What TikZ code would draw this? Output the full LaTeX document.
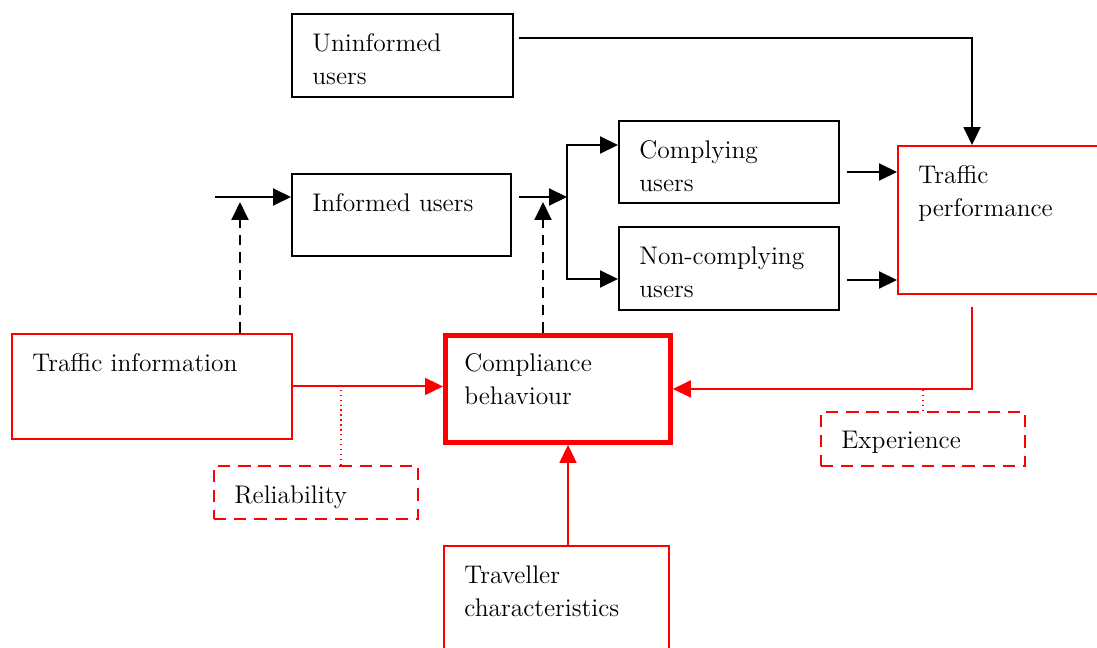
\documentclass[tikz,border=0pt]{standalone}
\usepackage{tikz}
\usetikzlibrary{arrows.meta, positioning, calc}

\begin{document}
\begin{tikzpicture}[
        x=0.02cm, y=-0.02cm,
        txt/.style={anchor=north west, inner sep=0pt, align=left, xshift=0.42cm, yshift=-0.40cm, font=\fontsize{14.5}{18.8}\selectfont},
        blk/.style={rectangle, draw, line width=1.1pt, anchor=north west, inner sep=0pt},
        rbox/.style={blk, draw=red},
        dbox/.style={rbox, dash pattern=on 7pt off 4.5pt},
        arr/.style={-{Triangle[length=0.36cm, width=0.34cm]}, line width=1.1pt},
        rarr/.style={arr, draw=red},
        darr/.style={arr, dash pattern=on 6pt off 4pt},
        rdot/.style={draw=red, line width=0.8pt, dotted},
    ]
    \clip (0,0) rectangle (1097,648);
    \node[blk, minimum width=4.42cm, minimum height=1.66cm, label={[txt]north west:Uninformed\\users}] (unin) at (291,13) {};
    \node[blk, minimum width=4.38cm, minimum height=1.64cm, label={[txt]north west:Informed users}] (inf) at (291,173) {};
    \node[blk, minimum width=4.4cm, minimum height=1.64cm, label={[txt]north west:Complying\\users}] (comp) at (618,120) {};
    \node[blk, minimum width=4.4cm, minimum height=1.66cm, label={[txt]north west:Non-complying\\users}] (noncomp) at (618,226) {};
    \node[rbox, minimum width=4.4cm, minimum height=2.96cm, label={[txt]north west:Traffic\\performance}] (perf) at (897,145) {};
    \node[rbox, minimum width=5.6cm, minimum height=2.1cm, label={[txt]north west:Traffic information}] (info) at (11,333) {};
    \node[rbox, line width=2.8pt, minimum width=4.5cm, minimum height=2.14cm, label={[txt]north west:Compliance\\behaviour}] (compl) at (443,333) {};
    \node[dbox, minimum width=4.08cm, minimum height=1.06cm, label={[txt]north west:Reliability}] (rel) at (213,465) {};
    \node[dbox, minimum width=4.08cm, minimum height=1.08cm, label={[txt]north west:Experience}] (exp) at (820,411) {};
    \node[rbox, minimum width=4.5cm, minimum height=2.4cm, label={[txt]north west:Traveller\\characteristics}] (trav) at (443,545) {};

    % user flows
    \coordinate (in) at (215,197);
    \coordinate (sp) at (567,197);
    \draw[arr] (in) -- (in -| inf.west);
    \draw[arr] ($(inf.north east)+(7,24)$) -- (sp);
    \draw[arr] (sp) |- ($(comp.north west)+(0,25)$);
    \draw[arr] (sp) |- ($(noncomp.north west)+(0,53)$);
    \draw[arr] ($(comp.north east)+(7,52)$) coordinate (c1) -- (c1 -| perf.west);
    \draw[arr] ($(noncomp.north east)+(7,54)$) coordinate (c2) -- (c2 -| perf.west);
    \draw[arr] ($(unin.north east)+(5,25)$) -| ($(perf.north west)+(75,0)$);

    % influences
    \coordinate (d1) at (240,202);
    \coordinate (d2) at (543,202);
    \draw[darr] (info.north -| d1) -- (d1);
    \draw[darr] (compl.north -| d2) -- (d2);
    \draw[rarr] (info.east) -- (info.east -| compl.west);
    \draw[rarr] ($(perf.south west)+(75,12)$) |- (compl.east);
    \draw[rarr] ($(trav.north west)+(125,0)$) coordinate (t1) -- (t1 |- compl.south);
    \draw[rdot] ($(rel.north west)+(128,0)$) coordinate (r1) -- (r1 |- info.east);
    \draw[rdot] ($(exp.north west)+(103,0)$) coordinate (e1) -- (e1 |- compl.east);
\end{tikzpicture}
\end{document}
